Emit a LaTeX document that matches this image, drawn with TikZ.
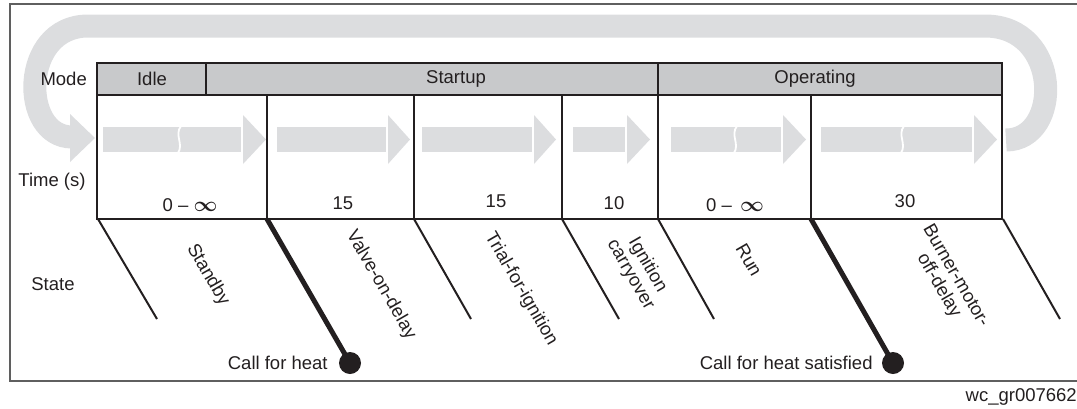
\documentclass[tikz,border=0pt]{standalone}
\usepackage{fontspec}
\setmainfont{Liberation Sans}
\usepackage{tikz}
\usetikzlibrary{positioning}
\definecolor{ink}{RGB}{35,31,32}
\definecolor{bandgray}{RGB}{220,221,223}
\definecolor{modegray}{RGB}{200,201,203}
\definecolor{framegray}{RGB}{95,95,95}
\newcommand{\infsign}{{\fontsize{22}{22}\selectfont\boldmath$\infty$}}
\tikzset{
  lbl/.style={font=\fontsize{18.5}{19.5}\selectfont,text=ink,inner sep=1pt},
  statelbl/.style={lbl,rotate=-60,align=center},
  modecell/.style={draw=ink,line width=2.6pt,fill=modegray},
  cellline/.style={draw=ink,line width=2.6pt},
  band/.style={draw=bandgray,line width=23pt},
  diag/.style={draw=ink,line width=2pt},
  cue/.style={draw=ink,line width=5pt},
  dotnode/.style={circle,fill=ink,inner sep=0pt,minimum size=22pt},
  brk/.style={draw=white,line width=1.8pt},
}

\begin{document}
\begin{tikzpicture}[x=1pt,y=-1pt]
  \clip (0,0) rectangle (1077,408);
  \draw[framegray,line width=1.5pt] (10,4) rectangle (1090,381);
  % loop back from the last phase to the first
  \coordinate (loopin) at (1006,140);
  \coordinate (loopout) at (72,137);
  \draw[band] (loopin) .. controls (1062,140) and (1062,26) .. (985,26) -- (88,26)
    .. controls (20,26) and (20,137) .. (loopout);
  \fill[bandgray] (70,114) -- (95,138) -- (70,162) -- cycle;
  % phase arrows
  \foreach \a/\b/\c in {103/241/266,277/386/410,422/532/556,573/625/650,671/781/806,821/972/997} {
    \fill[bandgray] (\a,127) rectangle (\b,152);
    \fill[bandgray] (\b+2,115) -- (\c,139.5) -- (\b+2,164) -- cycle;
  }
  \foreach \x in {179,735,902}
    \draw[brk] (\x+2,126) .. controls (\x-5,135) and (\x+5,144) .. (\x-1,153);
  % mode bar
  \draw[modecell] (97,63) rectangle (206,95);
  \draw[modecell] (206,63) rectangle (658,95);
  \draw[modecell] (658,63) rectangle (1002,95);
  \node[lbl] (idle) at (152,79) {Idle};
  \node[lbl] (startup) at (456,79) {Startup};
  \node[lbl] (operating) at (815,79) {Operating};
  % time row
  \draw[cellline] (97,95) rectangle (1002,219);
  \foreach \x in {267,414,562,658,811}
    \draw[cellline] (\x,95) -- (\x,219);
  \node[lbl] (t1) at (190,205) {0 -- \infsign};
  \node[lbl] (t2) at (343,203) {15};
  \node[lbl] (t3) at (496,201) {15};
  \node[lbl] (t4) at (614,203) {10};
  \node[lbl] (t5) at (735,205) {0 -- \,\infsign};
  \node[lbl] (t6) at (905,201) {30};
  % row labels
  \node[lbl,anchor=east] (mode) at (88,79) {Mode};
  \node[lbl] (time) at (52,182) {Time (s)};
  \node[lbl] (state) at (53,284) {State};
  % state separators
  \foreach \x/\ex [count=\i] in {98/157,414/471,562/619,658/714,1003/1060} {
    \coordinate (top\i) at (\x,219);
    \coordinate (end\i) at (\ex,319);
    \draw[diag] (top\i) -- (end\i);
  }
  \node[dotnode] (heat) at (350,363) {};
  \node[dotnode] (satisfied) at (893,363) {};
  \coordinate (vtop) at (267,219);
  \coordinate (btop) at (811,219);
  \draw[cue] (vtop) -- (heat.center);
  \draw[cue] (btop) -- (satisfied.center);
  \node[lbl,left=10pt of heat] (heatlbl) {Call for heat};
  \node[lbl,left=8pt of satisfied] (satlbl) {Call for heat satisfied};
  % states
  \node[statelbl] (standby) at (208,275) {Standby};
  \node[statelbl] (valve) at (381,285) {Valve-on-delay};
  \node[statelbl] (trial) at (521,289) {Trial-for-ignition};
  \node[statelbl] (carry) at (639,270) {Ignition\\carryover};
  \node[statelbl] (run) at (749,260) {Run};
  \node[statelbl] (burner) at (947,281) {Burner-motor-\\off-delay};
  \node[lbl,anchor=east,inner sep=0pt] (figid) at (1077,397) {wc\_gr007662};
\end{tikzpicture}
\end{document}
